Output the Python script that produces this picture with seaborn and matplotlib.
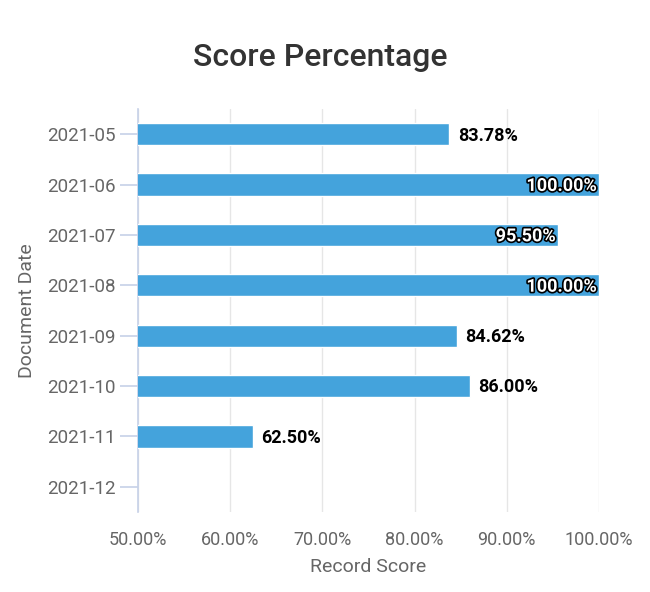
import pandas as pd
import matplotlib.pyplot as plt
import matplotlib.patheffects as pe
import seaborn as sns
import numpy as np

# data
dates = ["2021-05", "2021-06", "2021-07", "2021-08", "2021-09", "2021-10", "2021-11", "2021-12"]
scores = [83.78, 100.00, 95.50, 100.00, 84.62, 86.00, 62.50, np.nan]
x_ticks = [50, 60, 70, 80, 90, 100]

df = pd.DataFrame({"date": dates, "score": scores})

sns.set_style("white", {"ytick.left": True})
plt.rcParams["font.family"] = ["Roboto", "DejaVu Sans"]

fig = plt.figure(figsize=(6.5, 5.92), dpi=100)
ax = fig.add_axes([138 / 650, 80 / 592, 461 / 650, 403 / 592])

sns.barplot(data=df, x="score", y="date", order=dates, orient="h",
            color="#44a3dc", saturation=1, width=0.44, ax=ax, zorder=3)

ax.set_xlim(50, 100)
ax.set_ylim(7.5, -0.5)
ax.set_xticks(x_ticks)
ax.set_xticklabels([f"{t:.2f}%" for t in x_ticks], fontsize=13, color="#666666")
ax.tick_params(axis="x", length=0, pad=14)
ax.tick_params(axis="y", left=True, length=13, width=1.2, color="#c6d1e8", labelsize=13.5,
               labelcolor="#666666", pad=3, direction="out")
ax.grid(axis="x", color="#e6e6e6", linewidth=1, zorder=0)
for s in ["top", "right", "bottom"]:
    ax.spines[s].set_visible(False)
ax.spines["left"].set_color("#c6d1e8")
ax.spines["left"].set_linewidth(1.2)

ax.set_xlabel("Record Score", fontsize=14, color="#666666", labelpad=6)
ax.set_ylabel("Document Date", fontsize=14, color="#666666", labelpad=8)

# value labels
for i, v in enumerate(scores):
    if np.isnan(v):
        continue
    txt = f"{v:.2f}%"
    if v > 90:
        ax.annotate(txt, (v, i), xytext=(-1.5, -1), textcoords="offset points",
                    ha="right", va="center", fontsize=13, fontweight="bold",
                    color="white", zorder=5,
                    path_effects=[pe.withStroke(linewidth=2.4, foreground="black")])
    else:
        ax.annotate(txt, (v, i), xytext=(6, -1), textcoords="offset points",
                    ha="left", va="center", fontsize=13, fontweight="bold",
                    color="black", zorder=5)

fig.text(320 / 650, 1 - 58 / 592, "Score Percentage", ha="center", va="center",
         fontsize=23, fontweight="medium", color="#333333")

fig.savefig("out.png", dpi=100, facecolor="white")
